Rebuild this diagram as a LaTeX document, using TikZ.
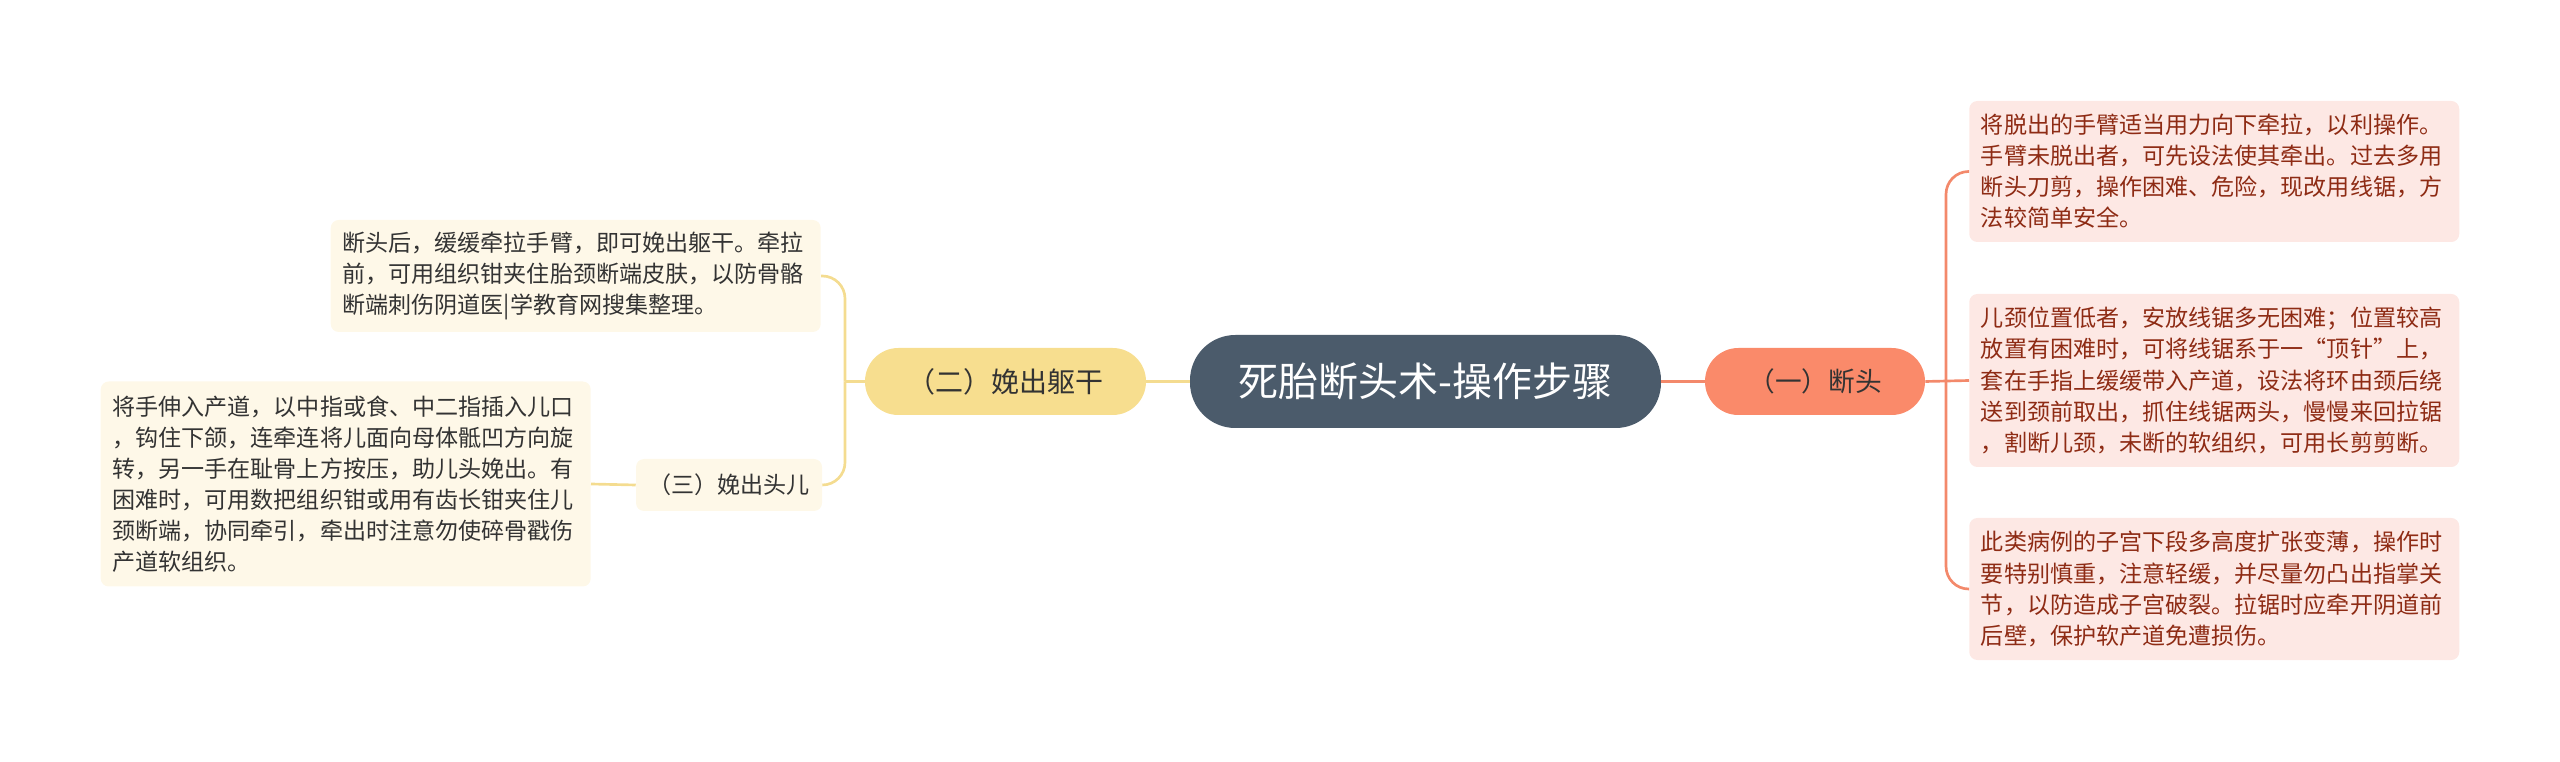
\documentclass[tikz,border=0pt]{standalone}
\usepackage{fontspec}
\setmainfont{Noto Sans CJK SC}
\definecolor{centerfill}{HTML}{4B5B6B}
\definecolor{salmon}{HTML}{FA8A6A}
\definecolor{salmonline}{HTML}{F3896B}
\definecolor{pinkfill}{HTML}{FDE8E4}
\definecolor{redtext}{HTML}{8E2B14}
\definecolor{yellowfill}{HTML}{F7DE8F}
\definecolor{yellowline}{HTML}{F4DC90}
\definecolor{creamfill}{HTML}{FEF8E8}
\definecolor{darktext}{HTML}{333333}
\tikzset{
  rootnode/.style={fill=centerfill, text=white, rounded corners=34pt, minimum width=353.25pt, minimum height=69.75pt, inner sep=0pt, font=\fontsize{30pt}{36pt}\selectfont},
  branchR/.style={fill=salmon, text=darktext, rounded corners=25pt, minimum height=50.25pt, inner sep=0pt, font=\fontsize{20pt}{24pt}\selectfont},
  branchL/.style={fill=yellowfill, text=darktext, rounded corners=25pt, minimum height=50.25pt, inner sep=0pt, font=\fontsize{21pt}{25pt}\selectfont},
  leafR/.style={fill=pinkfill, text=redtext, rounded corners=6pt, text width=350pt, inner xsep=8.75pt, inner ysep=0pt, align=left, font=\fontsize{17.3pt}{23.3pt}\selectfont},
  leafL/.style={fill=creamfill, text=darktext, rounded corners=6pt, text width=350pt, inner xsep=8.75pt, inner ysep=0pt, align=left, font=\fontsize{17.3pt}{23.3pt}\selectfont},
  subL/.style={fill=creamfill, text=darktext, rounded corners=6pt, minimum width=139.5pt, minimum height=39pt, inner sep=0pt, font=\fontsize{17.3pt}{21pt}\selectfont},
  connR/.style={draw=salmonline, line width=2pt},
  connL/.style={draw=yellowline, line width=2pt},
}
\begin{document}
\begin{tikzpicture}[x=0.75pt,y=-0.75pt]
\useasboundingbox (0,0) rectangle (2560,762);
\node[rootnode] (root) at (1425.5,381.5) {死胎断头术-操作步骤};
\node[branchR, minimum width=165pt] (b1) at (1815,381.5) {（一）断头};
\node[branchL, minimum width=210.75pt] (b2) at (1005.5,381.5) {（二）娩出躯干};
\node[subL] (b3) at (729,485) {（三）娩出头儿};
\node[leafR, anchor=west, minimum height=105.75pt] (r1) at (1969,171.5) {将脱出的手臂适当用力向下牵拉，以利操作。\\手臂未脱出者，可先设法使其牵出。过去多用\\断头刀剪，操作困难、危险，现改用线锯，方\\法较简单安全。};
\node[leafR, anchor=west, minimum height=129.75pt] (r2) at (1969,380.5) {儿颈位置低者，安放线锯多无困难；位置较高\\放置有困难时，可将线锯系于一“顶针”上，\\套在手指上缓缓带入产道，设法将环由颈后绕\\送到颈前取出，抓住线锯两头，慢慢来回拉锯\\，割断儿颈，未断的软组织，可用长剪剪断。};
\node[leafR, anchor=west, minimum height=106.5pt] (r3) at (1969,589) {此类病例的子宫下段多高度扩张变薄，操作时\\要特别慎重，注意轻缓，并尽量勿凸出指掌关\\节，以防造成子宫破裂。拉锯时应牵开阴道前\\后壁，保护软产道免遭损伤。};
\node[leafL, anchor=east, minimum height=84pt] (l1) at (821,276) {断头后，缓缓牵拉手臂，即可娩出躯干。牵拉\\前，可用组织钳夹住胎颈断端皮肤，以防骨骼\\断端刺伤阴道医|学教育网搜集整理。};
\node[leafL, anchor=east, minimum height=153.75pt] (l2) at (591,484) {将手伸入产道，以中指或食、中二指插入儿口\\，钩住下颌，连牵连将儿面向母体骶凹方向旋\\转，另一手在耻骨上方按压，助儿头娩出。有\\困难时，可用数把组织钳或用有齿长钳夹住儿\\颈断端，协同牵引，牵出时注意勿使碎骨戳伤\\产道软组织。};
% connectors
\draw[connR] (root.east) -- (b1.west);
\draw[connL] (root.west) -- (b2.east);
\coordinate (jr) at (1946,381.5);
\coordinate (jl) at (845,381.5);
\draw[connR] (b1.east) -- (r2.west);
\draw[connR, rounded corners=17pt] (jr) |- (r1.west);
\draw[connR, rounded corners=17pt] (jr) |- (r3.west);
\draw[connL] (b2.west) -- (jl);
\draw[connL, rounded corners=17pt] (jl) |- (l1.east);
\draw[connL, rounded corners=17pt] (jl) |- (b3.east);
\draw[connL] (b3.west) -- (l2.east);
\end{tikzpicture}
\end{document}
